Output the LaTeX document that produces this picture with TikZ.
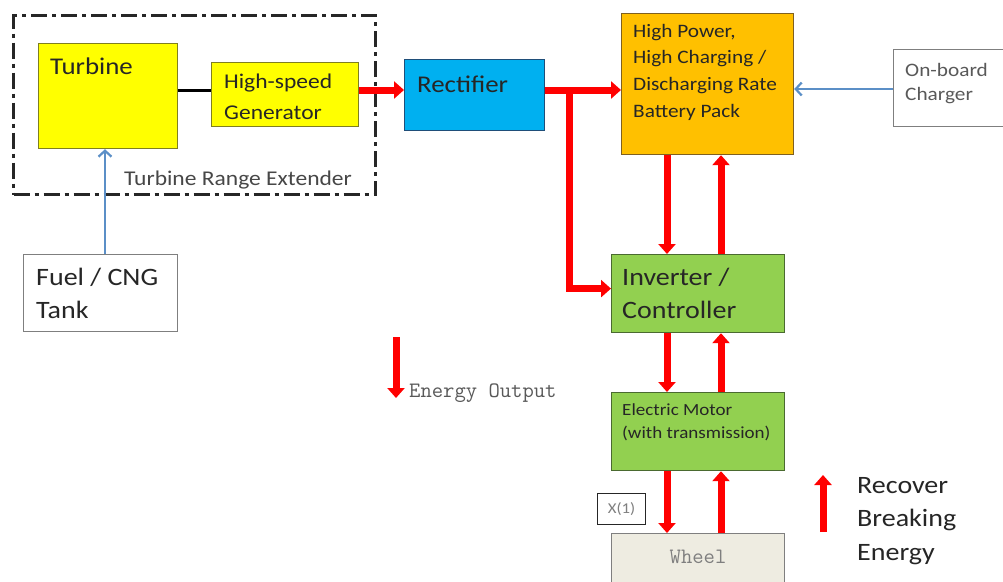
\documentclass[tikz,border=0pt]{standalone}
\usepackage{fontspec}
\setmainfont{Carlito}[FakeStretch=1.12]
\usetikzlibrary{arrows.meta}
\definecolor{redA}{HTML}{FF0000}
\definecolor{blueA}{HTML}{5B8FC7}
\definecolor{yellowA}{HTML}{FFFF00}
\definecolor{yellowB}{HTML}{7F7F20}
\definecolor{cyanA}{HTML}{00B0F0}
\definecolor{cyanB}{HTML}{1F4E79}
\definecolor{orangeA}{HTML}{FFC000}
\definecolor{orangeB}{HTML}{7F6020}
\definecolor{greenA}{HTML}{92D050}
\definecolor{greenB}{HTML}{4A6A30}
\definecolor{wheelA}{HTML}{EEECE1}
\definecolor{grayB}{HTML}{7F7F7F}
\definecolor{txtA}{HTML}{262626}
\definecolor{txtB}{HTML}{595959}
\tikzset{
  box/.style={draw, line width=1.2pt, inner sep=0pt, anchor=north west},
  txt/.style={anchor=base west, inner sep=0pt, align=left, text=txtA},
  redarrow/.style={draw=redA, line width=7pt, -{Triangle[width=17pt,length=10pt]}},
  bluearrow/.style={draw=blueA, line width=2.2pt, -{Straight Barb[width=13pt,length=6pt]}},
}
\begin{document}
\begin{tikzpicture}[x=1pt,y=-1pt]
\useasboundingbox (0,0) rectangle (1003,581);
\clip (0,0) rectangle (1003,581);
\fill[white] (0,0) rectangle (1003,581);

% boxes
\node[box, draw=yellowB, fill=yellowA, minimum width=139pt, minimum height=105pt] (turb) at (38,43) {};
\node[box, draw=yellowB, fill=yellowA, minimum width=147pt, minimum height=64pt] (gen) at (211,62) {};
\node[box, draw=cyanB, fill=cyanA, minimum width=140pt, minimum height=71pt] (rect) at (404,59) {};
\node[box, draw=orangeB, fill=orangeA, minimum width=172pt, minimum height=141pt] (batt) at (621,13) {};
\node[box, draw=grayB, fill=white, minimum width=130pt, minimum height=77pt] (chg) at (893,49) {};
\node[box, draw=grayB, fill=white, minimum width=154pt, minimum height=77pt] (fuel) at (23,254) {};
\node[box, draw=greenB, fill=greenA, minimum width=173pt, minimum height=78pt] (inv) at (611,254) {};
\node[box, draw=greenB, fill=greenA, minimum width=173pt, minimum height=78pt] (mot) at (611,392) {};
\node[box, draw=grayB, fill=wheelA, minimum width=173pt, minimum height=70pt] (whl) at (611,533) {};
\node[box, draw=txtA, line width=1pt, fill=white, minimum width=48pt, minimum height=31pt,
      text=grayB, font=\fontsize{15}{18}\selectfont] (x1) at (597,493) {X(1)};

% dash-dot frame
\node[box, draw=txtA, line width=3pt, dash pattern=on 16pt off 5pt on 4pt off 5pt,
      minimum width=362pt, minimum height=179pt] (tre) at (12,14) {};

% texts (anchor = baseline of the last line)
\node[txt, font=\fontsize{24}{29}\selectfont] (tturb) at (50,74) {Turbine};
\node[txt, font=\fontsize{21}{31}\selectfont] (tgen) at (224,119) {High-speed\\Generator};
\node[txt, font=\fontsize{24}{29}\selectfont] (trect) at (417,92) {Rectifier};
\node[txt, font=\fontsize{19}{26.6}\selectfont] (tbatt) at (633,117)
  {High Power,\\High Charging /\\Discharging Rate\\Battery Pack};
\node[txt, text=txtB, font=\fontsize{19}{24}\selectfont] (tchg) at (905,100) {On-board\\Charger};
\node[txt, font=\fontsize{25}{33}\selectfont] (tfuel) at (36,318) {Fuel / CNG\\Tank};
\node[txt, font=\fontsize{25}{33}\selectfont] (tinv) at (622,318) {Inverter /\\Controller};
\node[txt, font=\fontsize{17}{23}\selectfont] (tmot) at (622,438) {Electric Motor\\(with transmission)};
\node[txt, text=txtB!80!black, font=\fontsize{21}{25}\selectfont] (ttre) at (124,185) {Turbine Range Extender};
\node[anchor=base, inner sep=0pt, text=grayB, font=\ttfamily\fontsize{22}{26}\selectfont] (twhl) at (698,563) {Wheel};
\node[txt, text=txtB, font=\ttfamily\fontsize{22}{26}\selectfont] (teo) at (409,397) {Energy Output};
\node[txt, font=\fontsize{25}{33.5}\selectfont] (trec) at (857,560) {Recover\\Breaking\\Energy};

% helper coordinates
\coordinate (ly) at (0,90);
\coordinate (by) at (0,89);
\coordinate (jx) at (569,0);
\coordinate (dx) at (667,0);
\coordinate (ux) at (721,0);
\coordinate (fx) at (105,0);
\coordinate (eo1) at (396,337);
\coordinate (eo2) at (396,398);
\coordinate (rb1) at (823,532);
\coordinate (rb2) at (823,475);

% connectors
\draw[line width=3pt, draw=black] (turb.east |- ly) -- (gen.west |- ly);
\draw[redarrow] (gen.east |- ly) -- (rect.west |- ly);
\draw[redarrow] (rect.east |- ly) -- (batt.west |- ly);
\draw[redarrow] (jx |- ly) |- ([yshift=5pt]inv.west);
\draw[redarrow] (batt.south -| dx) -- (inv.north -| dx);
\draw[redarrow] (inv.north -| ux) -- (batt.south -| ux);
\draw[redarrow] (inv.south -| dx) -- (mot.north -| dx);
\draw[redarrow] (mot.north -| ux) -- (inv.south -| ux);
\draw[redarrow] (mot.south -| dx) -- (whl.north -| dx);
\draw[redarrow] (whl.north -| ux) -- (mot.south -| ux);
\draw[bluearrow] (fuel.north -| fx) -- (turb.south -| fx);
\draw[bluearrow] (chg.west |- by) -- (batt.east |- by);
\draw[redarrow] (eo1) -- (eo2);
\draw[redarrow] (rb1) -- (rb2);
\end{tikzpicture}
\end{document}
